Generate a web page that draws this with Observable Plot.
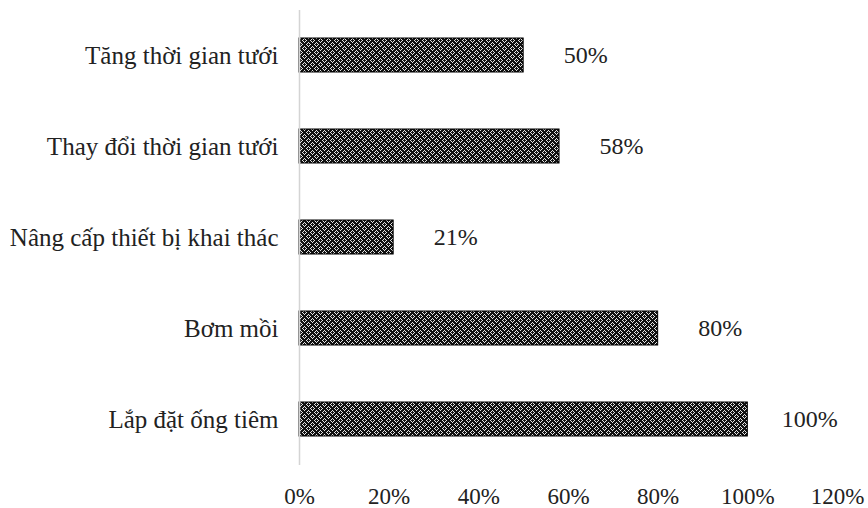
<!DOCTYPE html>
<html>
<head>
<meta charset="utf-8">
<script src="https://cdn.jsdelivr.net/npm/d3@7"></script>
<script src="https://cdn.jsdelivr.net/npm/@observablehq/plot@0.6"></script>
<style>
  html, body { margin: 0; padding: 0; background: #fff; }
  #chart svg { display: block; }
  #chart svg, #chart svg text {
    font-family: "Liberation Serif", "Times New Roman", serif !important;
  }
</style>
</head>
<body>
<div id="chart"></div>
<script>
// Measures taken, top to bottom
const categories = [
  "Tăng thời gian tưới",
  "Thay đổi thời gian tưới",
  "Nâng cấp thiết bị khai thác",
  "Bơm mồi",
  "Lắp đặt ống tiêm"
];
// Share of respondents applying each measure
const shares = [0.50, 0.58, 0.21, 0.80, 1.00];
// Horizontal axis ticks
const xTicks = [0, 0.2, 0.4, 0.6, 0.8, 1.0, 1.2];

const rows = categories.map((category, i) => ({category, share: shares[i]}));
const pct = d3.format(".0%");
const serif = "Liberation Serif";

// Dotted-diamond fill used by the bars
function hatchDefs() {
  const defs = d3.create("svg:defs");
  const p = defs.append("pattern")
    .attr("id", "diamondDots")
    .attr("patternUnits", "userSpaceOnUse")
    .attr("width", 8).attr("height", 8);
  p.append("rect").attr("width", 8).attr("height", 8).attr("fill", "#111");
  const dots = [
    [4,2],[5,3],[6,4],[5,5],[4,6],[3,5],[2,4],[3,3],
    [2,0],[1,1],[0,2],[7,1],[6,0],[7,7],[0,6],[1,7]
  ];
  for (const [x, y] of dots) {
    p.append("rect").attr("x", x).attr("y", y).attr("width", 1).attr("height", 1).attr("fill", "#e6e6e6");
  }
  return defs.node();
}

const chart = Plot.plot({
  width: 868,
  height: 508,
  marginLeft: 299,
  marginRight: 31,
  marginTop: 10,
  marginBottom: 43,
  style: {
    fontFamily: serif,
    fontSize: "22px",
    color: "#222",
    background: "#fff",
    overflow: "visible"
  },
  x: {domain: [0, 1.2], label: null},
  y: {domain: categories, paddingInner: 0.626, paddingOuter: 0.313, label: null},
  marks: [
    hatchDefs,
    Plot.axisX({ticks: xTicks, tickFormat: pct, tickSize: 0, tickPadding: 22, label: null, fontSize: 23, fontFamily: serif}),
    Plot.axisY({tickSize: 0, tickPadding: 21, label: null, fontSize: 25, fontFamily: serif}),
    Plot.barX(rows, {y: "category", x: "share", fill: "url(#diamondDots)", stroke: "#000", strokeWidth: 1}),
    Plot.ruleX([0], {stroke: "#d4d4d4", strokeWidth: 1.5}),
    Plot.text(rows, {y: "category", x: "share", text: d => pct(d.share), dx: 62, textAnchor: "middle", fill: "#222", fontSize: 24, fontFamily: serif})
  ]
});

document.getElementById("chart").appendChild(chart);
</script>
</body>
</html>
